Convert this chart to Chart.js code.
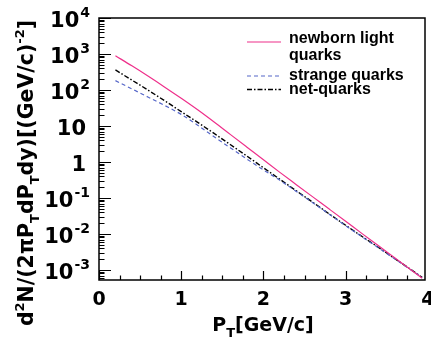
<!DOCTYPE html>
<html>
<head>
<meta charset="utf-8">
<script src="https://cdn.jsdelivr.net/npm/chart.js@4.4.0/dist/chart.umd.min.js"></script>
<style>
html, body { margin: 0; padding: 0; background: #fff; }
</style>
</head>
<body>
<canvas id="chart" width="431" height="342"></canvas>
<script>
// values (pT in GeV/c, spectrum in (GeV/c)^-2)
const pT = [0.2, 0.4, 0.6, 0.8, 1.0, 1.2, 1.4, 1.6, 1.8, 2.0, 2.2, 2.4, 2.6, 2.8, 3.0, 3.2, 3.4, 3.6, 3.8, 3.93];
const newbornLight = [891, 468, 240, 120, 58.9, 28.2, 12.9, 5.75, 2.57, 1.15, 0.513, 0.234, 0.107, 0.049, 0.0224, 0.0102, 0.00468, 0.00214, 0.00098, 0.00059];
const strangeQuarks = [182, 107, 63, 37, 21, 10.5, 5.0, 2.45, 1.20, 0.60, 0.31, 0.151, 0.074, 0.0355, 0.0170, 0.0083, 0.0041, 0.0020, 0.00098, 0.00062];
const netQuarks = [360, 188, 98, 50, 25, 12.6, 6.2, 3.0, 1.45, 0.69, 0.33, 0.158, 0.076, 0.036, 0.0174, 0.0085, 0.0042, 0.00204, 0.0010, 0.00062];

const xTickValues = [0, 1, 2, 3, 4];
const yTickExponents = [4, 3, 2, 1, 0, -1, -2, -3];
const seriesNames = [["newborn light", "quarks"], ["strange quarks"], ["net-quarks"]];

const AXIS_FONT = '"DejaVu Sans", sans-serif';
const LEG_FONT = '"Liberation Sans", Arial, Helvetica, sans-serif';
const colors = ["#ee2f8a", "#5566c8", "#000000"];
const dashes = [[], [4, 3], [5, 2, 1.5, 2]];

function toPoints(ys) {
	return pT.map((x, i) => ({ x: x, y: ys[i] }));
}

// draws a row of text pieces (normal / sup / sub), returns total width
function drawPieces(ctx, parts, x, y, measureOnly) {
	let w = 0;
	parts.forEach((p) => {
		ctx.font = `bold ${p.size}px ${AXIS_FONT}`;
		w += p.gap || 0;
		if (!measureOnly) ctx.fillText(p.t, x + w, y + (p.dy || 0));
		w += ctx.measureText(p.t).width;
	});
	return w;
}

const rootStyle = {
	id: "rootStyle",
	afterDraw(chart) {
		const ctx = chart.ctx;
		const area = chart.chartArea;
		const xs = chart.scales.x;
		const ys = chart.scales.y;
		ctx.save();
		ctx.fillStyle = "#000";
		ctx.strokeStyle = "#000";

		// frame
		ctx.lineWidth = 1.5;
		ctx.strokeRect(area.left, area.top, area.right - area.left, area.bottom - area.top);

		// x ticks (major + minor every 0.25)
		ctx.lineWidth = 1.2;
		ctx.beginPath();
		for (let v = 0; v <= xs.max + 1e-6; v += 0.25) {
			const px = Math.round(xs.getPixelForValue(v)) + 0.5;
			const len = Math.abs(v - Math.round(v)) < 1e-6 ? 9 : 4.5;
			ctx.moveTo(px, area.bottom);
			ctx.lineTo(px, area.bottom - len);
		}
		// y ticks (decades + 2..9)
		for (let e = -4; e <= 4; e++) {
			for (let m = 1; m <= 9; m++) {
				const v = m * Math.pow(10, e);
				if (v < ys.min || v > ys.max) continue;
				const py = Math.round(ys.getPixelForValue(v)) + 0.5;
				const len = m === 1 ? 12 : 5.5;
				ctx.moveTo(area.left, py);
				ctx.lineTo(area.left + len, py);
			}
		}
		ctx.stroke();

		// x tick labels
		ctx.textAlign = "center";
		ctx.textBaseline = "alphabetic";
		ctx.font = `bold 19px ${AXIS_FONT}`;
		xTickValues.forEach((v) => {
			ctx.fillText(String(v), xs.getPixelForValue(v), area.bottom + 25);
		});

		// y tick labels
		ctx.textAlign = "left";
		yTickExponents.forEach((e) => {
			const py = ys.getPixelForValue(Math.pow(10, e));
			let parts;
			if (e === 0) parts = [{ t: "1", size: 21 }];
			else if (e === 1) parts = [{ t: "10", size: 21 }];
			else parts = [{ t: "10", size: 21 }, { t: String(e), size: 14, dy: -10, gap: 1 }];
			const right = (e === 0 || e === 1) ? 86 : 90;
			const w = drawPieces(ctx, parts, 0, 0, true);
			drawPieces(ctx, parts, right - w, py + 9);
		});

		// x title
		const xt = [{ t: "P", size: 19 }, { t: "T", size: 13, dy: 6 }, { t: "[GeV/c]", size: 19 }];
		const xw = drawPieces(ctx, xt, 0, 0, true);
		drawPieces(ctx, xt, 263 - xw / 2, 331);

		// y title, rotated
		const yt = [
			{ t: "d", size: 20.5 }, { t: "2", size: 13, dy: -9 }, { t: "N/(2\u03c0P", size: 20.5 },
			{ t: "T", size: 13, dy: 6 }, { t: "dP", size: 20.5 }, { t: "T", size: 13, dy: 6 },
			{ t: "dy)[(GeV/c)", size: 20.5 }, { t: "-2", size: 13, dy: -9 }, { t: "]", size: 20.5 },
		];
		ctx.save();
		ctx.translate(33, 173);
		ctx.rotate(-Math.PI / 2);
		const yw = drawPieces(ctx, yt, 0, 0, true);
		drawPieces(ctx, yt, -yw / 2, 0);
		ctx.restore();

		// legend
		const sampleY = [42, 76, 89.5];
		const textY = [[42.5, 60], [80], [94]];
		ctx.font = `bold 16px ${LEG_FONT}`;
		seriesNames.forEach((lines, i) => {
			ctx.strokeStyle = colors[i];
			ctx.lineWidth = i === 2 ? 1.4 : 1.2;
			ctx.setLineDash(dashes[i]);
			ctx.beginPath();
			ctx.moveTo(247, sampleY[i]);
			ctx.lineTo(281, sampleY[i]);
			ctx.stroke();
			ctx.setLineDash([]);
			ctx.fillStyle = "#000";
			lines.forEach((s, j) => ctx.fillText(s, 289, textY[i][j]));
		});
		ctx.restore();
	},
};

new Chart(document.getElementById("chart"), {
	type: "line",
	data: {
		datasets: [
			{ label: "newborn light quarks", data: toPoints(newbornLight), borderColor: colors[0], borderDash: dashes[0] },
			{ label: "strange quarks", data: toPoints(strangeQuarks), borderColor: colors[1], borderDash: dashes[1] },
			{ label: "net-quarks", data: toPoints(netQuarks), borderColor: colors[2], borderDash: dashes[2], borderWidth: 1.4 },
		],
	},
	options: {
		responsive: false,
		animation: false,
		devicePixelRatio: 1,
		layout: { padding: { left: 99, right: 6, top: 18, bottom: 62 } },
		elements: {
			point: { radius: 0 },
			line: { borderWidth: 1.2, cubicInterpolationMode: "monotone", fill: false },
		},
		scales: {
			x: { type: "linear", min: 0, max: 3.965, display: false },
			y: { type: "logarithmic", min: 5.25e-4, max: 1e4, display: false },
		},
		plugins: { legend: { display: false }, tooltip: { enabled: false } },
	},
	plugins: [rootStyle],
});
</script>
</body>
</html>
